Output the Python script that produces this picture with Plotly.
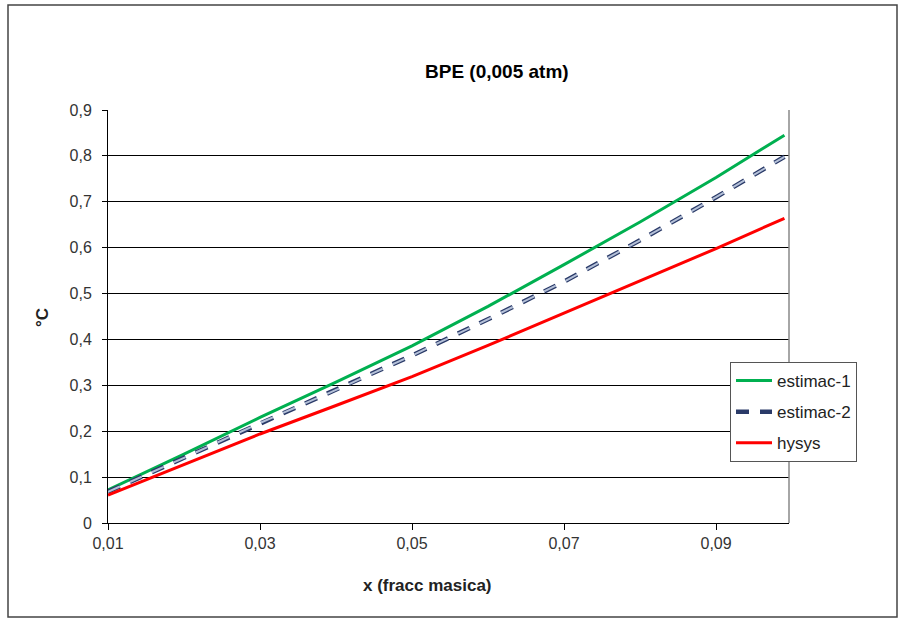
import plotly.graph_objects as go

x_vals = [0.01, 0.02, 0.03, 0.04, 0.05, 0.06, 0.07, 0.08, 0.09, 0.099]
estimac1 = [0.072, 0.150, 0.230, 0.307, 0.386, 0.472, 0.563, 0.656, 0.753, 0.845]
estimac2 = [0.068, 0.142, 0.218, 0.290, 0.365, 0.444, 0.526, 0.616, 0.710, 0.798]
hysys = [0.061, 0.127, 0.194, 0.256, 0.319, 0.387, 0.457, 0.527, 0.598, 0.664]
x_ticks = [0.01, 0.03, 0.05, 0.07, 0.09]
y_ticks = [0, 0.1, 0.2, 0.3, 0.4, 0.5, 0.6, 0.7, 0.8, 0.9]

FONT = "Arial, Liberation Sans, sans-serif"

fig = go.Figure()
fig.add_trace(go.Scatter(x=x_vals, y=estimac1, mode="lines", name="estimac-1",
                         legendgroup="g1",
                         line=dict(color="#00b050", width=3)))
fig.add_trace(go.Scatter(x=x_vals, y=estimac2, mode="lines", name="estimac-2",
                         legendgroup="g2",
                         line=dict(color="#2a3a68", width=4.5, dash="13px,11px")))
fig.add_trace(go.Scatter(x=x_vals, y=estimac2, mode="lines", name="estimac-2",
                         legendgroup="g2", showlegend=False, hoverinfo="skip",
                         line=dict(color="#b4c0d8", width=2, dash="13px,11px")))
fig.add_trace(go.Scatter(x=x_vals, y=hysys, mode="lines", name="hysys",
                         legendgroup="g3",
                         line=dict(color="#ff0000", width=3)))

L, R, T, B = 108, 789, 110, 523
W, H = 904, 622
pw, ph = R - L, B - T

def px(xp):
    return (xp - L) / pw

def py(yp):
    return (B - yp) / ph

fig.update_layout(
    width=W, height=H,
    margin=dict(l=L, r=W - R, t=T, b=H - B, autoexpand=False),
    paper_bgcolor="white", plot_bgcolor="white",
    separators=",.",
    font=dict(family=FONT, size=16, color="#333333"),
    showlegend=True,
    legend=dict(x=px(730), y=py(362), xanchor="left", yanchor="top",
                bordercolor="#555555", borderwidth=1, bgcolor="white",
                font=dict(family=FONT, size=17, color="#222222"),
                tracegroupgap=6, itemwidth=36),
    xaxis=dict(range=[0.01, 0.0996], tickvals=x_ticks, tickformat=".2f",
               showgrid=False, zeroline=False, showline=True, linecolor="black",
               linewidth=1, ticks="outside", ticklen=6, tickcolor="black",
               tickfont=dict(family=FONT, size=16, color="#333333")),
    yaxis=dict(range=[0, 0.9], tickvals=y_ticks, tickformat=".1~f",
               showgrid=True, gridcolor="black", gridwidth=1, zeroline=False,
               showline=True, linecolor="black", linewidth=1,
               ticks="outside", ticklen=5, tickcolor="black",
               ticklabelstandoff=7,
               tickfont=dict(family=FONT, size=16, color="#333333")),
    shapes=[
        dict(type="line", xref="paper", yref="paper", x0=1, x1=1, y0=0, y1=1,
             line=dict(color="#888888", width=1.5)),
        dict(type="rect", xref="paper", yref="paper",
             x0=px(8), x1=px(897), y0=py(617), y1=py(5),
             line=dict(color="#444444", width=1.5), layer="below"),
    ],
    annotations=[
        dict(text="<b>BPE (0,005 atm)</b>", xref="paper", yref="paper",
             x=px(497), y=py(72), xanchor="center", yanchor="middle",
             showarrow=False, font=dict(family=FONT, size=19, color="black")),
        dict(text="<b>x (fracc masica)</b>", xref="paper", yref="paper",
             x=px(427), y=py(585), xanchor="center", yanchor="middle",
             showarrow=False, font=dict(family=FONT, size=17, color="#222222")),
        dict(text="<b>°C</b>", xref="paper", yref="paper",
             x=px(42), y=py(318), xanchor="center", yanchor="middle",
             textangle=-90, showarrow=False,
             font=dict(family=FONT, size=17, color="#222222")),
    ],
)

fig.write_html("out.html", config={"displayModeBar": False},
               post_script="document.body.style.margin='0';document.body.style.overflow='hidden';")
